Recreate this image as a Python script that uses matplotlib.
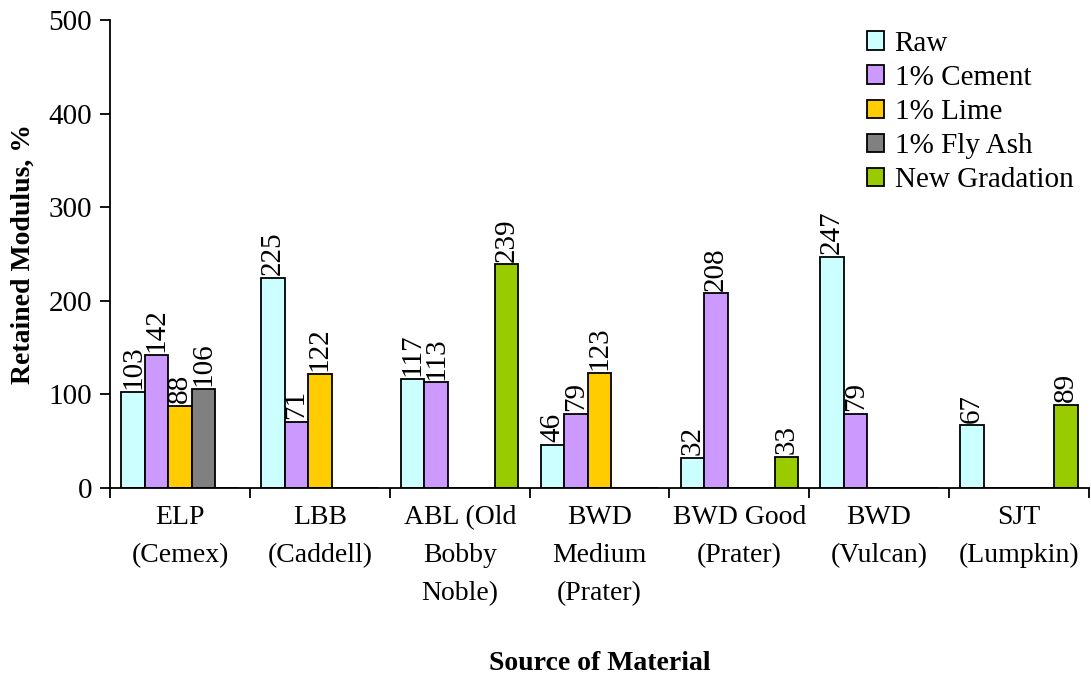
import numpy as np
import matplotlib.pyplot as plt

plt.rcParams['font.family'] = ['Liberation Serif', 'DejaVu Serif']

sources = ['ELP\n(Cemex)', 'LBB\n(Caddell)', 'ABL (Old\nBobby\nNoble)',
           'BWD\nMedium\n(Prater)', 'BWD Good\n(Prater)', 'BWD\n(Vulcan)',
           'SJT\n(Lumpkin)']
series_names = ['Raw', '1% Cement', '1% Lime', '1% Fly Ash', 'New Gradation']
raw = [103, 225, 117, 46, 32, 247, 67]
cement = [142, 71, 113, 79, 208, 79, np.nan]
lime = [88, 122, np.nan, 123, np.nan, np.nan, np.nan]
fly_ash = [106, np.nan, np.nan, np.nan, np.nan, np.nan, np.nan]
new_gradation = [np.nan, np.nan, 239, np.nan, 33, np.nan, 89]
colors = ['#CCFFFF', '#CC99FF', '#FFCC00', '#808080', '#99CC00']

series = [raw, cement, lime, fly_ash, new_gradation]

fig = plt.figure(figsize=(10.91, 6.75), dpi=100)
ax = fig.add_axes([0.101, 0.277, 0.897, 0.693])

w = 0.168
centers = np.arange(len(sources)) + 0.5
for j, (vals, name, c) in enumerate(zip(series, series_names, colors)):
    vals = np.array(vals, dtype=float)
    x = centers + (j - 2) * w
    ax.bar(x, np.nan_to_num(vals), width=w, color=c, edgecolor='black',
           linewidth=1.3, label=name)
    for xi, v in zip(x, vals):
        if not np.isnan(v):
            ax.annotate(f'{int(v)}', (xi, v), xytext=(0, 2), textcoords='offset points',
                        rotation=90, ha='center', va='bottom', fontsize=21)

ax.set_xlim(0, len(sources))
ax.set_ylim(0, 500)
ax.set_yticks(range(0, 501, 100))
ax.set_xticks(range(0, len(sources) + 1))
ax.set_xticklabels([])
ax.set_xticks(centers, minor=True)
ax.set_xticklabels(sources, minor=True, fontsize=20, linespacing=1.7)
ax.tick_params(axis='x', which='minor', length=0, pad=12)
ax.tick_params(axis='x', which='major', length=7, width=1.3, direction='out')
ax.tick_params(axis='y', length=7, width=1.3, direction='out', labelsize=21, pad=6)
for s in ['top', 'right']:
    ax.spines[s].set_visible(False)
for s in ['left', 'bottom']:
    ax.spines[s].set_linewidth(1.3)

ax.set_ylabel('Retained Modulus, %', fontsize=20, fontweight='bold')
ax.yaxis.set_label_coords(-0.076, 0.5)
fig.text(0.55, 0.008, 'Source of Material', fontsize=20, fontweight='bold', ha='center')

ax.legend(loc='upper right', bbox_to_anchor=(1.002, 1.015), frameon=False, fontsize=21,
          handlelength=0.6, handleheight=0.6, handletextpad=0.35, labelspacing=0.28,
          borderaxespad=0.2)

fig.savefig('out.png', dpi=100)
